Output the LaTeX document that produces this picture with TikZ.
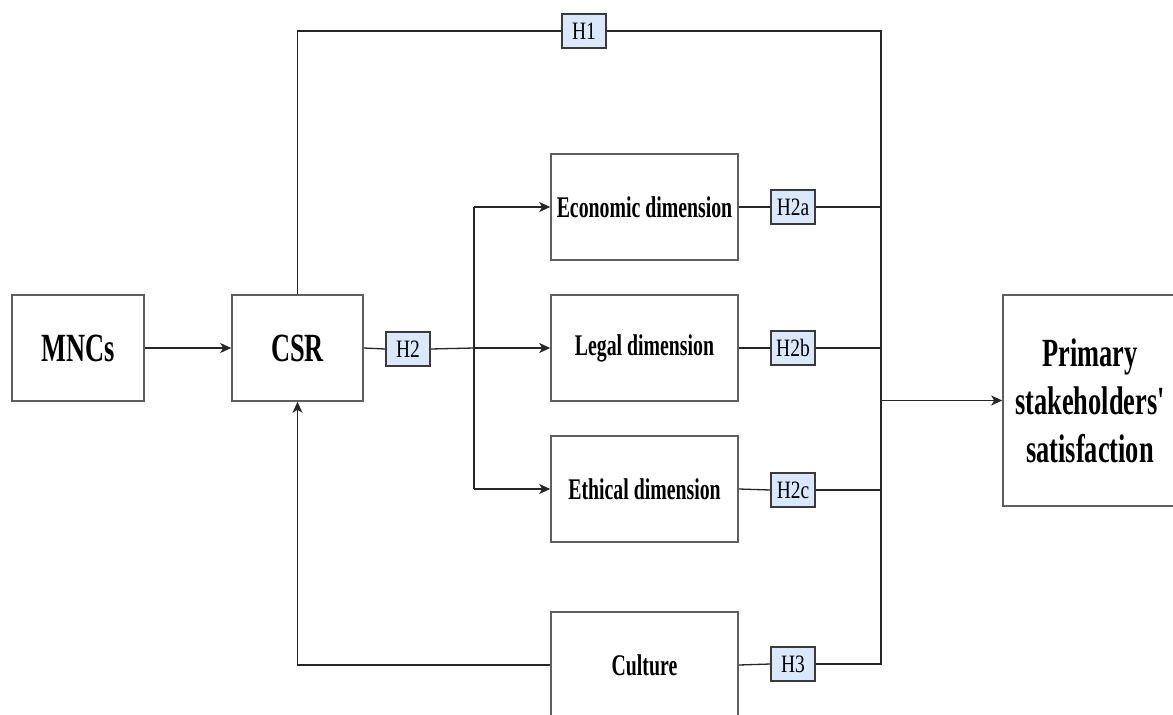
\documentclass[tikz,border=0pt]{standalone}
\usepackage{fontspec}
\setmainfont{Liberation Serif}[FakeStretch=0.66]
% same face without the TeX quote mapping, so ' stays straight
\newfontfamily\boxfont{Liberation Serif}[FakeStretch=0.66]
\newfontfamily\labelfont{Liberation Serif}[FakeStretch=0.78]
\usetikzlibrary{arrows.meta}
\definecolor{boxline}{HTML}{5F5F5F}
\definecolor{hypfill}{HTML}{DAE8FC}
\definecolor{hypline}{HTML}{3A3A3A}
\tikzset{
  block/.style={draw=boxline, line width=1.6pt, fill=white, inner sep=0pt,
    align=center},
  bigtext/.style={font=\boxfont\bfseries\fontsize{40}{48}\selectfont},
  midtext/.style={font=\boxfont\bfseries\fontsize{30}{34}\selectfont},
  hyp/.style={draw=hypline, line width=1.3pt, fill=hypfill, inner sep=0pt,
    minimum width=44pt, minimum height=34pt, font=\labelfont\fontsize{25}{27}\selectfont},
  link/.style={line width=1.3pt, draw=black!85},
  arr/.style={link, -{Stealth[length=11pt,width=10pt,inset=3pt]}}
}
\begin{document}
\begin{tikzpicture}[x=1pt,y=-1pt]
\clip (0,0) rectangle (1173,715);
\fill[white] (0,0) rectangle (1173,715);

% construct boxes
\node[block, bigtext, minimum width=132pt, minimum height=106pt] (mnc) at (78,348) {MNCs};
\node[block, bigtext, minimum width=131pt, minimum height=106pt] (csr) at (297.5,348) {CSR};
\node[block, midtext, minimum width=187pt, minimum height=106pt] (eco) at (644.5,207) {Economic dimension};
\node[block, midtext, minimum width=187pt, minimum height=106pt] (leg) at (644.5,348) {Legal dimension};
\node[block, midtext, minimum width=187pt, minimum height=106pt] (eth) at (644.5,489) {Ethical dimension};
\node[block, midtext, minimum width=187pt, minimum height=106pt] (cul) at (644.5,665) {Culture};
\node[block, bigtext, minimum width=174pt, minimum height=211pt] (prim) at (1090,400.5) {Primary\\stakeholders'\\satisfaction};

% hypothesis labels
\node[hyp] (h1) at (584,31) {H1};
\node[hyp] (h2) at (408,349) {H2};
\node[hyp] (h2a) at (793,207) {H2a};
\node[hyp] (h2b) at (793,348) {H2b};
\node[hyp] (h2c) at (793,490) {H2c};
\node[hyp] (h3) at (793,664) {H3};

% junction points
\coordinate (top) at (881,31);
\coordinate (bot) at (881,664);
\coordinate (split) at (474,348);

% direct path MNCs -> CSR
\draw[arr] (mnc.east) -- (csr.west);

% H1: CSR straight to the right-hand bus
\draw[link] (csr.north) -- (csr.north |- h1) -- (h1.west);
\draw[link] (h1.east) -- (top) -- (bot) -- (h3.east);

% H2: CSR fans out to the three dimensions
\draw[link] (csr.east) -- (h2.west);
\draw[link] (h2.east) -- (split);
\draw[link] (split |- eco) -- (split |- eth);
\draw[arr] (split |- eco) -- (eco.west);
\draw[arr] (split) -- (leg.west);
\draw[arr] (split |- eth) -- (eth.west);

% dimensions join the bus
\draw[link] (eco.east) -- (h2a.west);
\draw[link] (h2a.east) -- (top |- h2a);
\draw[link] (leg.east) -- (h2b.west);
\draw[link] (h2b.east) -- (top |- h2b);
\draw[link] (eth.east) -- (h2c.west);
\draw[link] (h2c.east) -- (top |- h2c);
\draw[link] (cul.east) -- (h3.west);

% bus into the outcome
\draw[arr] (top |- prim.west) -- (prim.west);

% H3: culture feeds back into CSR
\draw[arr] (cul.west) -- (csr.south |- cul.west) -- (csr.south);
\end{tikzpicture}
\end{document}
